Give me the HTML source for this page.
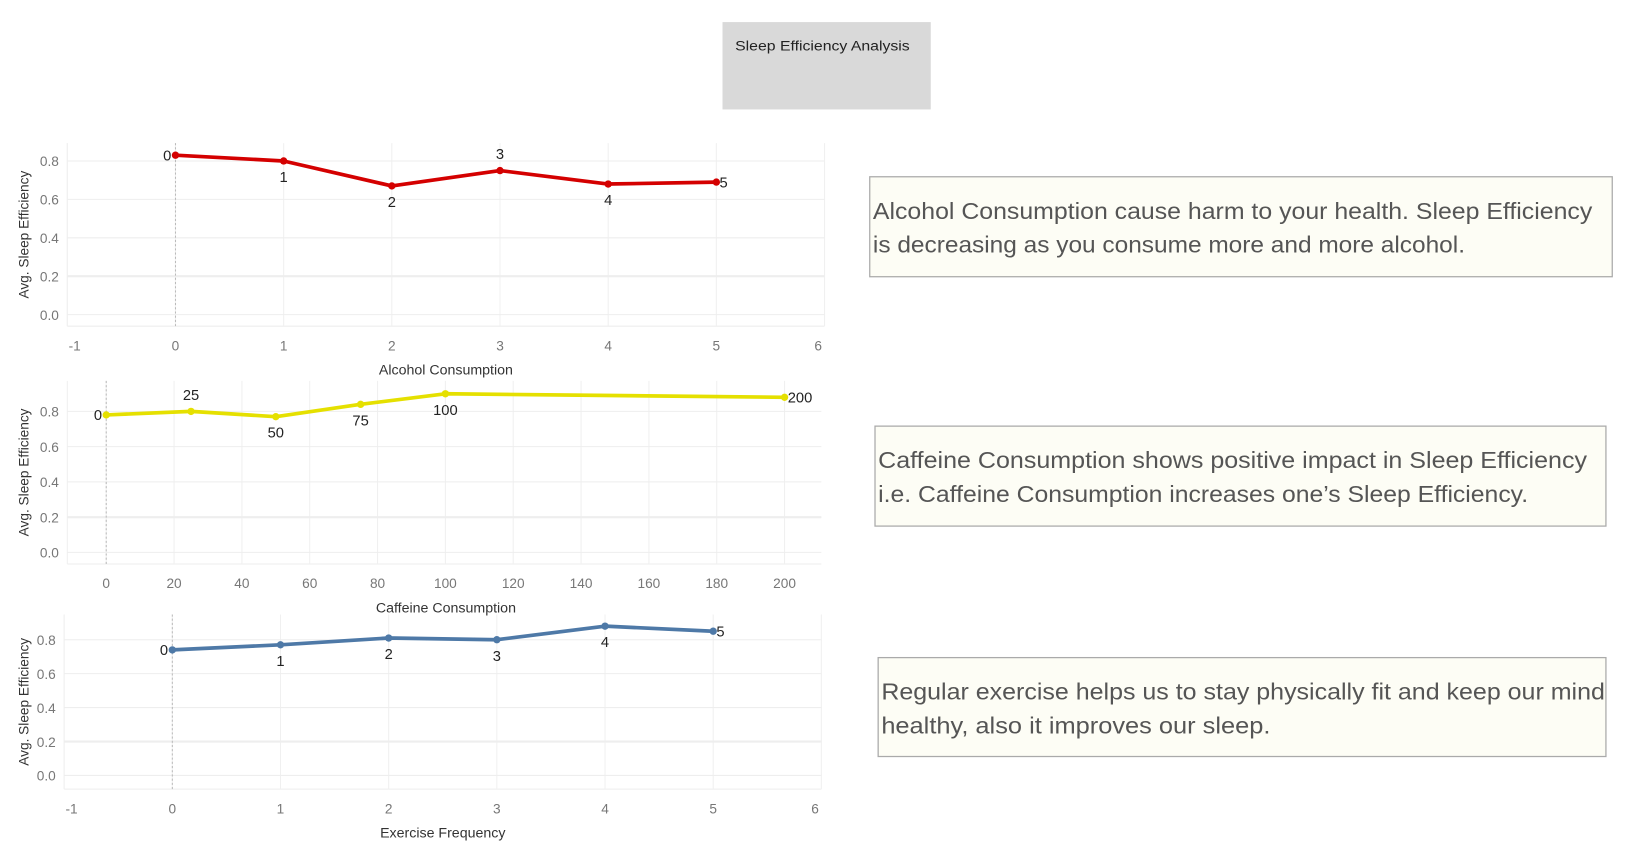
<!DOCTYPE html>
<html><head><meta charset="utf-8"><style>
html,body{margin:0;padding:0;background:#fff;width:1648px;height:847px;overflow:hidden}
svg{display:block;font-family:"Liberation Sans",sans-serif}
</style></head><body>
<svg id="root" width="1648" height="847" viewBox="0 0 1567 805" preserveAspectRatio="none">
<rect x="687" y="21" width="198" height="83" fill="#d9d9d9"/>
<text x="699" y="48" font-size="13.5" fill="#222" textLength="166" lengthAdjust="spacingAndGlyphs">Sleep Efficiency Analysis</text>

<g>
<rect x="827" y="168" width="706" height="95" fill="#fdfdf5" stroke="#aaa" stroke-width="1.2"/>
<text x="830" y="208" font-size="22" fill="#555" textLength="684" lengthAdjust="spacingAndGlyphs">Alcohol Consumption cause harm to your health. Sleep Efficiency</text>
<text x="830" y="240" font-size="22" fill="#555" textLength="563" lengthAdjust="spacingAndGlyphs">is decreasing as you consume more and more alcohol.</text>
</g>
<g>
<rect x="832" y="405" width="695" height="95" fill="#fdfdf5" stroke="#aaa" stroke-width="1.2"/>
<text x="835" y="445" font-size="22" fill="#555" textLength="674" lengthAdjust="spacingAndGlyphs">Caffeine Consumption shows positive impact in Sleep Efficiency</text>
<text x="835" y="477" font-size="22" fill="#555" textLength="618" lengthAdjust="spacingAndGlyphs">i.e. Caffeine Consumption increases one’s Sleep Efficiency.</text>
</g>
<g>
<rect x="835" y="625" width="692" height="94" fill="#fdfdf5" stroke="#aaa" stroke-width="1.2"/>
<text x="838" y="665" font-size="22" fill="#555" textLength="688" lengthAdjust="spacingAndGlyphs">Regular exercise helps us to stay physically fit and keep our mind</text>
<text x="838" y="697" font-size="22" fill="#555" textLength="370" lengthAdjust="spacingAndGlyphs">healthy, also it improves our sleep.</text>
</g>
</svg>
<script>
// Alcohol chart data
const alcCats=[0,1,2,3,4,5];
const alcVals=[0.83,0.80,0.67,0.75,0.68,0.69];
const alcLabelPos=['left','below','below','above','below','right'];
const alcXTicks=[-1,0,1,2,3,4,5,6];
// Caffeine chart data
const cafCats=[0,25,50,75,100,200];
const cafVals=[0.78,0.80,0.77,0.84,0.90,0.88];
const cafLabelPos=['left','above','below','below','below','right'];
const cafXTicks=[0,20,40,60,80,100,120,140,160,180,200];
// Exercise chart data
const exCats=[0,1,2,3,4,5];
const exVals=[0.74,0.77,0.81,0.80,0.88,0.85];
const exLabelPos=['left','below','below','below','below','right'];
const exXTicks=[-1,0,1,2,3,4,5,6];
const yTicks=[0,0.2,0.4,0.6,0.8];

const NS='http://www.w3.org/2000/svg';
const root=document.getElementById('root');
function mk(tag,attrs,parent){const e=document.createElementNS(NS,tag);for(const k in attrs)e.setAttribute(k,attrs[k]);parent.appendChild(e);return e;}

function chart(cfg){
  const g=mk('g',{},root);
  
  
  const xs=v=>cfg.x0px+(v-cfg.x0)*(cfg.x1px-cfg.x0px)/(cfg.x1-cfg.x0);
  const ys=v=>cfg.y0px-v*(cfg.y0px-cfg.y8px)/0.8;
  mk('line',{x1:cfg.L,x2:cfg.R,y1:cfg.B,y2:cfg.B,stroke:'#eee','stroke-width':1},g);
  mk('line',{x1:cfg.L,x2:cfg.L,y1:cfg.T,y2:cfg.B,stroke:'#f0f0f0','stroke-width':1},g);
  cfg.xTicks.forEach(t=>{
    const x=xs(t);
    const gl=mk('line',{x1:x,x2:x,y1:cfg.T,y2:cfg.B,stroke:'#f0f0f0','stroke-width':1},g);
    
    
    const lx=Math.min(Math.max(x,cfg.L+7),cfg.R-6);
    const tl=mk('text',{x:lx,y:cfg.B+23,'font-size':13,fill:'#777','text-anchor':'middle'},g);
    tl.textContent=t;
    
    
  });
  yTicks.forEach(t=>{
    const y=ys(t);
    const gl=mk('line',{x1:cfg.L,x2:cfg.R,y1:y,y2:y,stroke:'#eee','stroke-width':t===0.2?2:1},g);
    
    
    const tl=mk('text',{x:cfg.L-8,y:y+5,'font-size':13,fill:'#777','text-anchor':'end'},g);
    tl.textContent=t.toFixed(1);
    
    
  });
  const zl=mk('line',{x1:xs(0),x2:xs(0),y1:cfg.T,y2:cfg.B,stroke:'#bbb','stroke-width':1,'stroke-dasharray':'2,2'},g);
  
  
  const xt=mk('text',{x:cfg.xTitleX,y:cfg.B+46,'font-size':13.5,fill:'#333','text-anchor':'middle'},g);
  xt.textContent=cfg.xTitle;
  
  
  const cy=(cfg.T+cfg.B)/2;
  const yt=mk('text',{x:0,y:0,'font-size':13,fill:'#333','text-anchor':'middle',transform:`translate(27,${cy}) rotate(-90)`},g);
  yt.textContent='Avg. Sleep Efficiency';
  
  
  const pts=cfg.cats.map((c,i)=>xs(c)+','+ys(cfg.vals[i])).join(' ');
  const pl=mk('polyline',{points:pts,fill:'none',stroke:cfg.color,'stroke-width':3.5,'stroke-linejoin':'round'},g);
  
  
  cfg.cats.forEach((c,i)=>{
    const x=xs(c),y=ys(cfg.vals[i]);
    const p=mk('circle',{cx:x,cy:y,r:3.5,fill:cfg.color},g);
    
    
    const pos=cfg.pos[i];
    let lx=x,ly=y+5,anc='middle';
    if(pos==='left'){lx=x-4;anc='end';}
    else if(pos==='right'){lx=x+3;anc='start';}
    else if(pos==='above'){ly=y-11;}
    else {ly=y+20;}
    const t=mk('text',{x:lx,y:ly,'font-size':14,fill:'#222','text-anchor':anc},g);
    t.textContent=c;
    
    
  });
}
chart({name:'alcohol-chart',cats:alcCats,vals:alcVals,pos:alcLabelPos,xTicks:alcXTicks,color:'#d40000',
  L:64,R:784,T:136,B:310,x0:-1,x1:6,x0px:64,x1px:784,y0px:299,y8px:153,xTitle:'Alcohol Consumption',xTitleX:424});
chart({name:'caffeine-chart',cats:cafCats,vals:cafVals,pos:cafLabelPos,xTicks:cafXTicks,color:'#e5e000',
  L:64,R:781,T:362,B:536,x0:0,x1:200,x0px:101,x1px:746,y0px:525,y8px:391,xTitle:'Caffeine Consumption',xTitleX:424});
chart({name:'exercise-chart',cats:exCats,vals:exVals,pos:exLabelPos,xTicks:exXTicks,color:'#4e79a7',
  L:61,R:781,T:584,B:750,x0:-1,x1:6,x0px:61,x1px:781,y0px:737,y8px:608,xTitle:'Exercise Frequency',xTitleX:421});
</script>
</body></html>
